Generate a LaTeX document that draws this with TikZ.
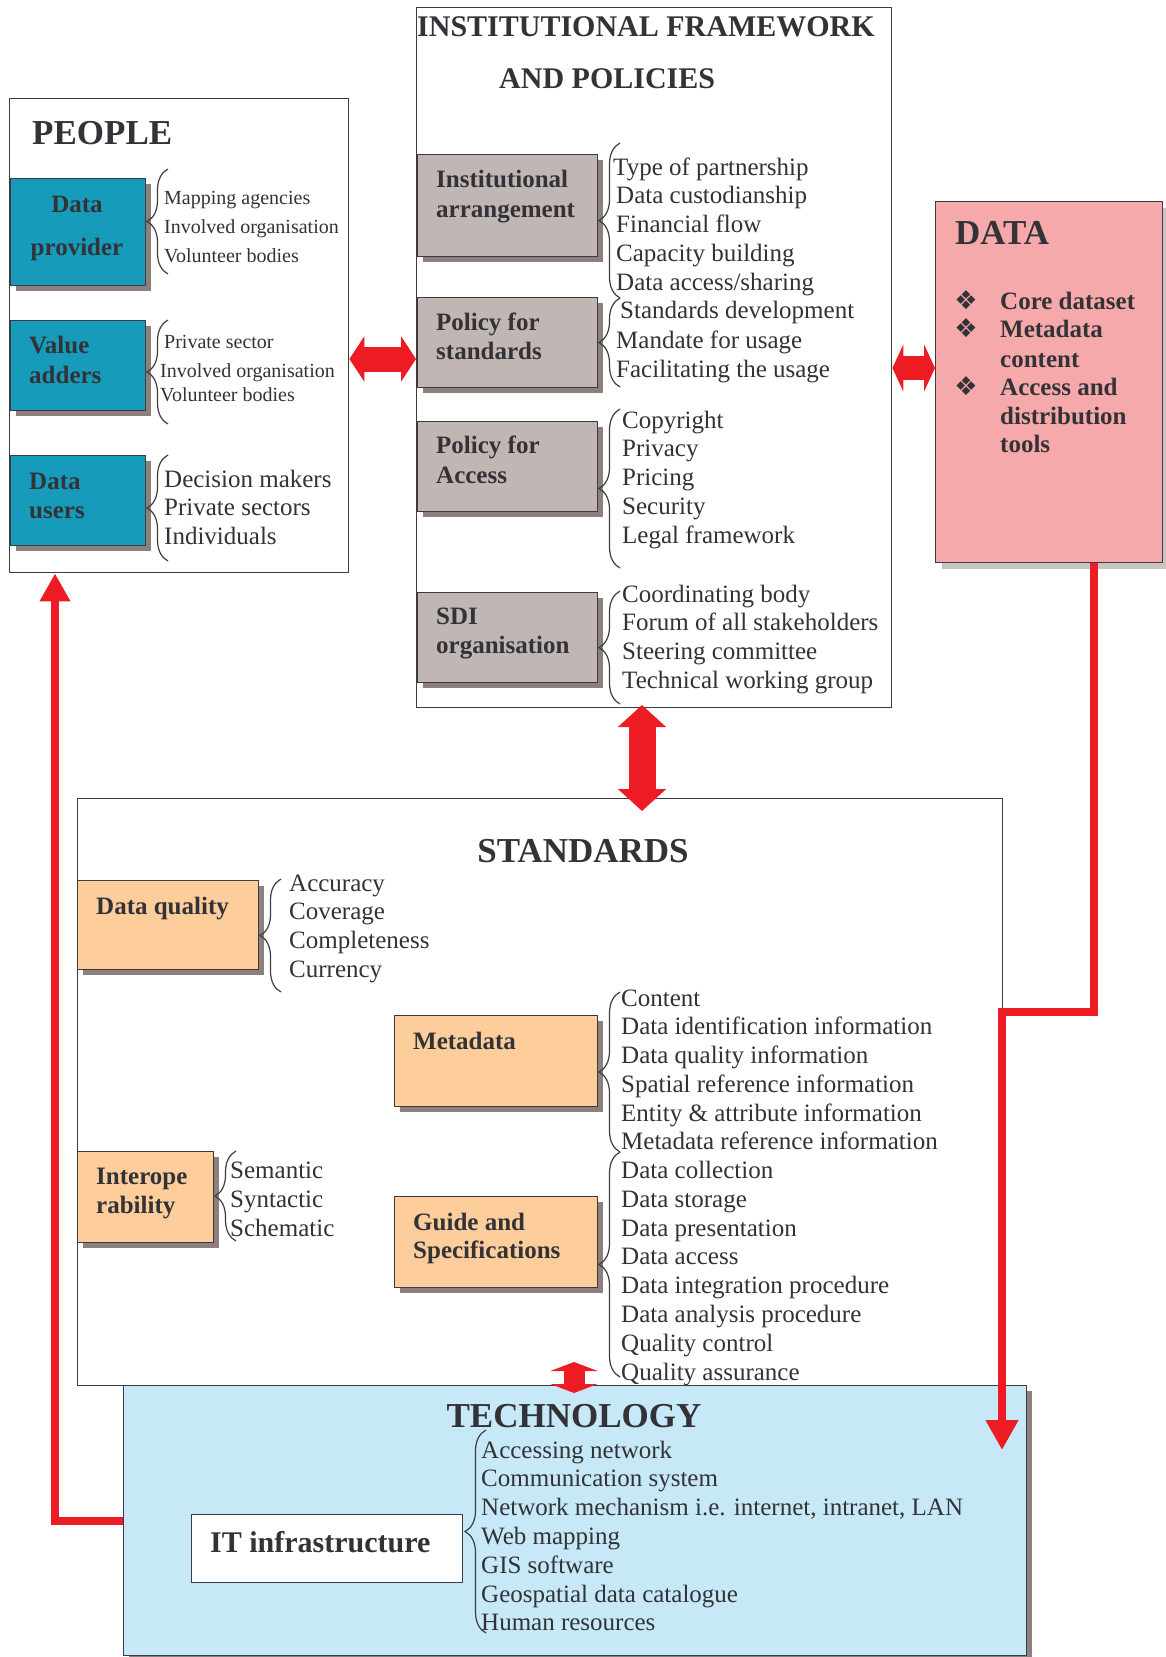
\documentclass[tikz,border=0pt]{standalone}
\usepackage{fontspec}
\setmainfont{Liberation Serif}
\newfontfamily\djv{DejaVu Sans}
\usetikzlibrary{arrows.meta,decorations.pathreplacing,shadows}
\definecolor{txtc}{RGB}{50,50,55}
\definecolor{bordc}{RGB}{60,60,64}
\definecolor{tealc}{RGB}{23,155,186}
\definecolor{grayb}{RGB}{192,182,180}
\definecolor{shdc}{RGB}{140,127,124}
\definecolor{orgc}{RGB}{253,206,156}
\definecolor{pinkc}{RGB}{246,169,171}
\definecolor{bluec}{RGB}{198,232,247}
\definecolor{redc}{RGB}{237,28,36}
\definecolor{dshd}{RGB}{200,196,196}
\tikzset{
  bx/.style={draw=bordc, line width=1.4pt, inner sep=0pt, anchor=north west},
  shd/.style={drop shadow={shadow xshift=5pt,shadow yshift=-5pt,fill=shdc,opacity=1}},
  ttl/.style={font=\fontsize{35}{40}\selectfont\bfseries, text=txtc, inner sep=0pt, anchor=base west},
  lbl/.style={font=\fontsize{25}{29}\selectfont\bfseries, text=txtc, inner sep=0pt, anchor=base west},
  itm/.style={font=\fontsize{25}{29}\selectfont, text=txtc, inner sep=0pt, anchor=base west},
  sitm/.style={font=\fontsize{20}{24}\selectfont, text=txtc, inner sep=0pt, anchor=base west},
  brc/.style={decorate, decoration={brace, amplitude=21pt}, draw=bordc, line width=1.2pt},
  redln/.style={draw=redc, line width=8.5pt},
  blk/.style={draw=redc, line width=#1},
}
\begin{document}
\begin{tikzpicture}[x=1pt,y=-1pt]
\useasboundingbox (0,0) rectangle (1165,1657);
\fill[white] (0,0) rectangle (1165,1657);

% ---------------- PEOPLE
\node[bx, fill=white, minimum width=339pt, minimum height=474pt] (people) at (9,98) {};
\node[ttl] (tpeople) at (32,144) {PEOPLE};
\node[bx, fill=tealc, shd, minimum width=135pt, minimum height=107pt] (dprov) at (10,178) {};
\node[bx, fill=tealc, shd, minimum width=135pt, minimum height=90pt] (vadd) at (10,320) {};
\node[bx, fill=tealc, shd, minimum width=135pt, minimum height=90pt] (dusers) at (10,455) {};
\node[lbl, anchor=base] (tdp1) at (77,212) {Data};
\node[lbl, anchor=base] (tdp2) at (77,255) {provider};
\node[lbl] (tva1) at (29,353) {Value};
\node[lbl] (tva2) at (29,383) {adders};
\node[lbl] (tdu1) at (29,489) {Data};
\node[lbl] (tdu2) at (29,518) {users};
\draw[brc] (168,274) -- (168,169);
\draw[brc] (168,424) -- (168,320);
\draw[brc] (168,561) -- (168,455);
\foreach \t [count=\i from 0] in {Mapping agencies, Involved organisation, Volunteer bodies}
  \node[sitm] (pa\i) at (164,204+29*\i) {\t};
\node[sitm] (pb0) at (164,348) {Private sector};
\node[sitm] (pb1) at (160,377) {Involved organisation};
\node[sitm] (pb2) at (160,401) {Volunteer bodies};
\foreach \t [count=\i from 0] in {Decision makers, Private sectors, Individuals}
  \node[itm] (pc\i) at (164,487+28.5*\i) {\t};

% ---------------- INSTITUTIONAL
\node[bx, fill=white, minimum width=475pt, minimum height=700pt] (inst) at (416,7) {};
\node[font=\fontsize{30}{34}\selectfont\bfseries, text=txtc, inner sep=0pt, anchor=base west] (tin1) at (417,36) {INSTITUTIONAL FRAMEWORK};
\node[font=\fontsize{30}{34}\selectfont\bfseries, text=txtc, inner sep=0pt, anchor=base west] (tin2) at (499,88) {AND POLICIES};
\node[bx, fill=grayb, shd, minimum width=180pt, minimum height=102pt] (ia) at (417,154) {};
\node[bx, fill=grayb, shd, minimum width=180pt, minimum height=90pt] (ps) at (417,297) {};
\node[bx, fill=grayb, shd, minimum width=180pt, minimum height=90pt] (pacc) at (417,421) {};
\node[bx, fill=grayb, shd, minimum width=180pt, minimum height=90pt] (sdi) at (417,592) {};
\node[lbl] (tia1) at (436,187) {Institutional};
\node[lbl] (tia2) at (436,217) {arrangement};
\node[lbl] (tps1) at (436,330) {Policy for};
\node[lbl] (tps2) at (436,359) {standards};
\node[lbl] (tpa1) at (436,453) {Policy for};
\node[lbl] (tpa2) at (436,483) {Access};
\node[lbl] (tsd1) at (436,624) {SDI};
\node[lbl] (tsd2) at (436,653) {organisation};
\draw[brc] (620,298) -- (620,143);
\draw[brc] (620,387) -- (620,298);
\draw[brc] (620,568) -- (620,409);
\draw[brc] (620,704) -- (620,591);
\node[itm] (ia0) at (613,175) {Type of partnership};
\foreach \t [count=\i from 1] in {Data custodianship, Financial flow, Capacity building, Data access/sharing}
  \node[itm] (ia\i) at (616,175+28.75*\i) {\t};
\node[itm] (ib0) at (620,318) {Standards development};
\node[itm] (ib1) at (616,348) {Mandate for usage};
\node[itm] (ib2) at (616,377) {Facilitating the usage};
\foreach \t [count=\i from 0] in {Copyright, Privacy, Pricing, Security, Legal framework}
  \node[itm] (ic\i) at (622,428+28.8*\i) {\t};
\foreach \t [count=\i from 0] in {Coordinating body, Forum of all stakeholders, Steering committee, Technical working group}
  \node[itm] (id\i) at (622,602+28.7*\i) {\t};

% ---------------- DATA
\node[bx, fill=pinkc, drop shadow={shadow xshift=6pt,shadow yshift=-6pt,fill=dshd,opacity=1}, minimum width=227pt, minimum height=361pt] (data) at (935,201) {};
\node[ttl] (tdata) at (955,244) {DATA};
\foreach \y [count=\i] in {309,337,395}
  \node[font=\djv\fontsize{26}{28}\selectfont, text=txtc, inner sep=0pt, anchor=center] (bul\i) at (966,\y-9) {❖};
\node[lbl] (dd1) at (1000,309) {Core dataset};
\node[lbl] (dd2) at (1000,337) {Metadata};
\node[lbl] (dd3) at (1000,367) {content};
\node[lbl] (dd4) at (1000,395) {Access and};
\node[lbl] (dd5) at (1000,424) {distribution};
\node[lbl] (dd6) at (1000,452) {tools};

% ---------------- STANDARDS
\node[bx, fill=white, minimum width=925pt, minimum height=587pt] (std) at (77,798) {};
\node[ttl, anchor=base] (tstd) at (583,862) {STANDARDS};
\node[bx, fill=orgc, shd, minimum width=181pt, minimum height=89pt] (dq) at (77,880) {};
\node[bx, fill=orgc, shd, minimum width=136pt, minimum height=91pt] (io) at (77,1151) {};
\node[bx, fill=orgc, shd, minimum width=203pt, minimum height=91pt] (md) at (394,1015) {};
\node[bx, fill=orgc, shd, minimum width=203pt, minimum height=91pt] (gd) at (394,1196) {};
\node[lbl] (tdq) at (96,914) {Data quality};
\node[lbl] (tio1) at (96,1184) {Interope};
\node[lbl] (tio2) at (96,1213) {rability};
\node[lbl] (tmd) at (413,1049) {Metadata};
\node[lbl] (tgd1) at (413,1230) {Guide and};
\node[lbl] (tgd2) at (413,1258) {Specifications};
\draw[brc] (281,992) -- (281,879);
\draw[brc] (236,1241) -- (236,1151);
\draw[brc] (620,1152) -- (620,992);
\draw[brc] (620,1377) -- (620,1152);
\foreach \t [count=\i from 0] in {Accuracy, Coverage, Completeness, Currency}
  \node[itm] (sq\i) at (289,891+28.7*\i) {\t};
\foreach \t [count=\i from 0] in {Semantic, Syntactic, Schematic}
  \node[itm] (si\i) at (230,1178+29*\i) {\t};
\foreach \t [count=\i from 0] in {Content, Data identification information, Data quality information, Spatial reference information, Entity \& attribute information, Metadata reference information, Data collection, Data storage, Data presentation, Data access, Data integration procedure, Data analysis procedure, Quality control, Quality assurance}
  \node[itm] (sm\i) at (621,1006+28.77*\i) {\t};

% ---------------- TECHNOLOGY
\node[bx, fill=bluec, shd, minimum width=903pt, minimum height=270pt] (tech) at (123,1385) {};
\node[ttl, anchor=base] (ttech) at (574,1427) {TECHNOLOGY};
\node[bx, fill=white, minimum width=271pt, minimum height=68pt] (itb) at (191,1514) {};
\node[font=\fontsize{30}{34}\selectfont\bfseries, text=txtc, inner sep=0pt, anchor=base west] (tit) at (210,1552) {IT infrastructure};
\draw[brc] (486,1633) -- (486,1430);
\foreach \t [count=\i from 0] in {Accessing network, Communication system, {Network mechanism i.e. internet, intranet, LAN}, Web mapping, GIS software, Geospatial data catalogue, Human resources}
  \node[itm] (te\i) at (481,1458+28.8*\i) {\t};

% ---------------- connectors
\coordinate (lcorner) at (55,1521);
\coordinate (rtop) at (1094,1012);
\coordinate (rcorner) at (1002,1012);
\coordinate (techin) at (1002,1450);
\draw[redln, -{Triangle[length=28pt,width=29pt]}] (tech.west |- lcorner) -- (lcorner) -- (lcorner |- people.south);
\draw[redln, -{Triangle[length=30pt,width=31pt]}] (rtop |- data.south) -- (rtop) -- (rcorner) -- (techin);

\draw[blk=25pt, {Triangle[length=15pt,width=45pt]}-{Triangle[length=15pt,width=45pt]}] (people.east |- 0,359) -- (inst.west |- 0,359);
\draw[blk=24pt, {Triangle[length=11pt,width=47pt]}-{Triangle[length=11pt,width=47pt]}] (inst.east |- 0,368) -- (data.west |- 0,368);
\coordinate (va1) at (642,705);
\coordinate (va2) at (642,811);
\draw[blk=27pt, {Triangle[length=22pt,width=47pt]}-{Triangle[length=22pt,width=47pt]}] (va1) -- (va2);
\coordinate (vb1) at (574,1362);
\coordinate (vb2) at (574,1393);
\draw[blk=21pt, {Triangle[length=9pt,width=47pt]}-{Triangle[length=9pt,width=47pt]}] (vb1) -- (vb2);
\end{tikzpicture}
\end{document}
